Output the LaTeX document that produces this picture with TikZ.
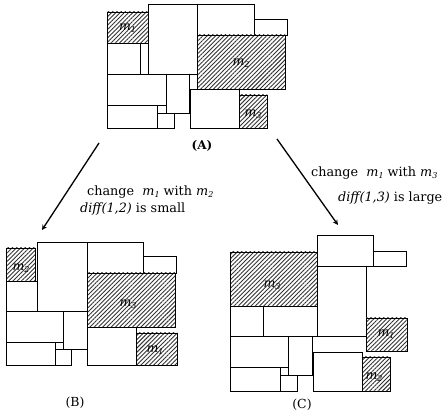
\documentclass[tikz,border=0pt]{standalone}
\usepackage{fontspec}
\setmainfont{DejaVu Serif}
\usetikzlibrary{patterns.meta}
\newcommand\mi[1]{\textit{m}\raisebox{-0.35ex}{\footnotesize\textit{#1}}}
\tikzset{box/.style={draw,line width=0.8pt},
	hatch/.style={draw,line width=0.8pt,pattern={Lines[angle=45,distance=3pt,line width=0.9pt]},pattern color=black!80},
	mlab/.style={font=\fontsize{12.5}{15}\selectfont},
	txt/.style={anchor=west,inner sep=0pt,font=\fontsize{12.8}{15}\selectfont},
	figlab/.style={font=\fontsize{12.5}{14}\selectfont}}
\begin{document}
\begin{tikzpicture}[>=stealth,x=1pt,y=-1pt]
			\useasboundingbox (0,0) rectangle (448,417);
			\foreach \a/\b/\c/\d in {148/4/197/74,197/4/254/35,254/19/287/35,107/43/140/74,140/43/148/74,107/74/166/105,166/74/189/113,190/89/239/128,107/105/157/128,157/105/166/113,157/113/174/128}
			\draw[box] (\a,\b) rectangle (\c,\d);
			\draw[hatch] (107,12) rectangle (148,43);
			\draw[hatch] (197,35) rectangle (285,89);
			\draw[hatch] (239,95) rectangle (267,128);
			\node[mlab] (am1) at (127.5,28) {\mi{1}};
			\node[mlab] (am2) at (241,63) {\mi{2}};
			\node[mlab] (am3) at (253,114) {\mi{3}};
			\node[figlab,font=\bfseries\fontsize{12}{14}\selectfont] (laba) at (202,146) {(A)};
			\foreach \a/\b/\c/\d in {37/242/87/311,87/242/143/273,143/256/176/273,6/281/37/311,6/311/63/342,63/311/87/349,6/342/55/365,55/342/63/349,55/349/71/365,87/327/136/365}
			\draw[box] (\a,\b) rectangle (\c,\d);
			\draw[hatch] (6,248) rectangle (35,281);
			\draw[hatch] (87,273) rectangle (175,327);
			\draw[hatch] (136,333) rectangle (177,365);
			\node[mlab] (bm2) at (21,268) {\mi{2}};
			\node[mlab] (bm3) at (128,304) {\mi{3}};
			\node[mlab] (bm1) at (155,350) {\mi{1}};
			\node[figlab] (labb) at (75,403) {(B)};
			\foreach \a/\b/\c/\d in {317/235/373/266,373/251/406/266,317/266/366/336,230/306/263/336,263/306/317/336,230/336/288/367,288/336/312/375,230/367/280/391,280/367/288/375,280/375/297/391,313/352/362/391}
			\draw[box] (\a,\b) rectangle (\c,\d);
			\draw[hatch] (230,252) rectangle (317,306);
			\draw[hatch] (366,318) rectangle (407,351);
			\draw[hatch] (362,357) rectangle (390,391);
			\node[mlab] (cm3) at (272,285) {\mi{3}};
			\node[mlab] (cm1) at (386,334) {\mi{1}};
			\node[mlab] (cm2) at (374,377) {\mi{2}};
			\node[figlab] (labc) at (302,405) {(C)};
			\coordinate (la) at (99,143);
			\coordinate (lb) at (42,230);
			\coordinate (ra) at (277,139);
			\coordinate (rb) at (338,225);
			\draw[->,line width=1.3pt] (la) -- (lb);
			\draw[->,line width=1.3pt] (ra) -- (rb);
			\node[txt] (tl1) at (87,192) {change\ \ \mi{1} with \mi{2}};
			\node[txt] (tl2) at (80,209) {\textit{diff(1,2)} is small};
			\node[txt] (tr1) at (311,173) {change\ \ \mi{1} with \mi{3}};
			\node[txt] (tr2) at (338,198) {\textit{diff(1,3)} is large};
\end{tikzpicture}
\end{document}
